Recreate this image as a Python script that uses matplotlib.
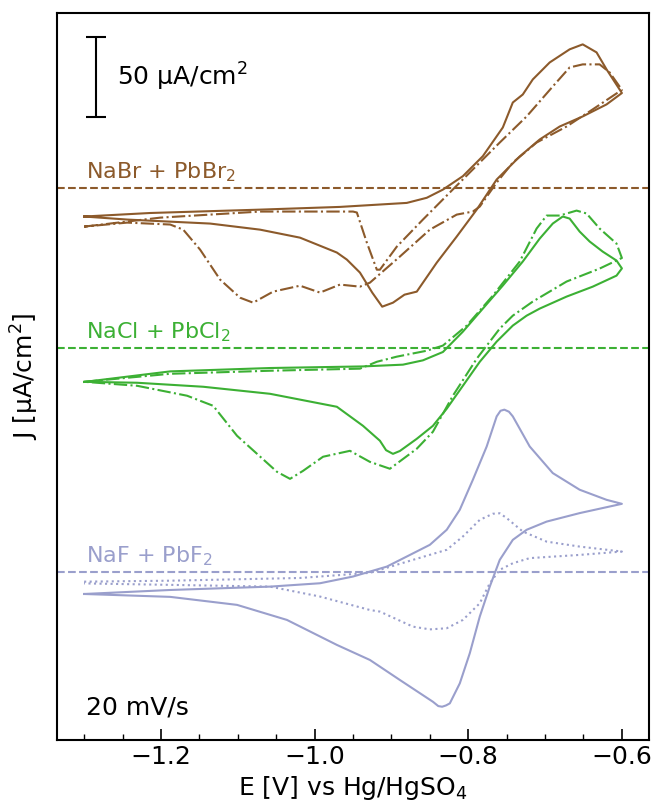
import matplotlib
matplotlib.use("Agg")
import matplotlib.pyplot as plt
from matplotlib.ticker import MultipleLocator

# colours per electrolyte
BROWN = "#8c5a2b"
GREEN = "#3cb034"
LAVENDER = "#9a9fcc"

# vertical offsets (uA/cm^2) of each set
offsets = {"NaF": 0.0, "NaCl": 140.0, "NaBr": 240.0}

# ---- NaBr + PbBr2 ----
e_br_solid = [-1.3, -1.214, -1.071, -0.967, -0.880, -0.854, -0.833, -0.807, -0.781,
              -0.755, -0.742, -0.729, -0.716, -0.694, -0.668, -0.651, -0.633, -0.620,
              -0.6, -0.620, -0.651, -0.681, -0.707, -0.733, -0.763, -0.789, -0.815,
              -0.841, -0.867, -0.883, -0.898, -0.912, -0.925, -0.941, -0.958, -0.971,
              -1.019, -1.071, -1.136, -1.188, -1.244, -1.3]
j_br_solid = [-18.1, -15.9, -13.8, -12.1, -9.6, -6.4, -1.3, 7.1, 19.6,
              37.5, 53.1, 58.1, 67.5, 78.1, 86.3, 89.4, 84.4, 73.8,
              59.0, 51.9, 44.4, 38.1, 30.0, 19.4, 5.0, -13.8, -30.6,
              -46.9, -65.0, -66.9, -71.9, -74.4, -65.6, -53.1, -45.0, -40.6,
              -31.3, -26.3, -22.5, -21.3, -20.0, -18.1]

e_br_dash = [-1.3, -1.201, -1.071, -0.950, -0.945, -0.932, -0.919, -0.915, -0.893,
             -0.859, -0.824, -0.794, -0.759, -0.724, -0.690, -0.668, -0.651, -0.629,
             -0.616, -0.6, -0.638, -0.672, -0.711, -0.742, -0.763, -0.785, -0.794,
             -0.815, -0.850, -0.889, -0.928, -0.941, -0.967, -0.993, -1.019, -1.054,
             -1.080, -1.097, -1.123, -1.149, -1.171, -1.188, -1.244, -1.3]
j_br_dash = [-24.4, -18.8, -15.0, -15.0, -15.6, -34.4, -51.3, -51.3, -36.9,
             -20.0, -3.1, 11.3, 28.1, 44.4, 63.1, 75.0, 76.9, 76.9,
             71.9, 61.0, 48.8, 38.1, 28.1, 15.6, 3.1, -11.9, -15.0,
             -16.9, -26.3, -43.1, -59.4, -61.9, -60.6, -65.6, -61.3, -65.0,
             -71.9, -68.8, -57.5, -38.8, -26.3, -23.1, -21.9, -24.4]

# ---- NaCl + PbCl2 ----
e_cl_solid = [-1.3, -1.188, -1.058, -0.937, -0.885, -0.859, -0.833, -0.807, -0.781,
              -0.755, -0.729, -0.707, -0.690, -0.677, -0.668, -0.655, -0.642, -0.625,
              -0.607, -0.6, -0.607, -0.638, -0.672, -0.707, -0.724, -0.742, -0.763,
              -0.785, -0.807, -0.828, -0.846, -0.867, -0.889, -0.898, -0.907, -0.915,
              -0.937, -0.971, -1.058, -1.145, -1.231, -1.3]
j_cl_solid = [-21.4, -14.8, -12.7, -11.7, -10.6, -7.9, -2.7, 10.0, 24.4,
              38.8, 53.8, 68.1, 77.5, 81.9, 80.6, 72.5, 66.3, 60.0,
              54.4, 49.5, 45.0, 38.1, 31.9, 24.4, 20.0, 13.8, 3.8,
              -8.8, -23.8, -38.1, -48.8, -56.9, -64.5, -66.3, -64.0, -58.1,
              -48.8, -36.9, -28.8, -24.4, -21.9, -21.3]

e_cl_dash = [-1.3, -1.188, -1.058, -0.941, -0.919, -0.893, -0.854, -0.833, -0.802,
             -0.768, -0.733, -0.711, -0.698, -0.681, -0.659, -0.646, -0.629, -0.607,
             -0.6, -0.629, -0.672, -0.716, -0.742, -0.759, -0.789, -0.820, -0.846,
             -0.867, -0.902, -0.928, -0.954, -0.989, -1.015, -1.032, -1.049, -1.101,
             -1.132, -1.166, -1.231, -1.3]
j_cl_dash = [-21.3, -16.3, -14.4, -13.1, -8.8, -5.6, -1.9, 1.3, 13.8,
             32.5, 53.8, 74.4, 82.5, 82.5, 85.6, 83.8, 74.4, 65.0,
             56.0, 49.4, 41.3, 28.8, 20.0, 11.9, -6.9, -30.0, -52.5,
             -63.1, -75.6, -71.3, -64.4, -68.1, -76.9, -81.9, -77.5, -55.0,
             -36.3, -30.0, -23.8, -21.3]

# ---- NaF + PbF2 ----
e_f_solid = [-1.3, -1.188, -1.058, -0.993, -0.950, -0.906, -0.880, -0.850, -0.828,
             -0.811, -0.794, -0.776, -0.763, -0.758, -0.753, -0.747, -0.742, -0.720,
             -0.690, -0.655, -0.620, -0.6, -0.655, -0.698, -0.724, -0.742, -0.759,
             -0.772, -0.785, -0.798, -0.811, -0.824, -0.829, -0.834, -0.839, -0.846,
             -0.889, -0.928, -0.971, -1.036, -1.101, -1.188, -1.3]
j_f_solid = [-13.8, -11.3, -9.2, -7.1, -2.9, 3.3, 9.6, 16.9, 26.3,
             38.8, 57.5, 78.3, 97.1, 100.6, 101.3, 100.0, 97.1, 78.3,
             61.7, 51.3, 45.0, 42.5, 36.7, 31.4, 26.3, 20.0, 7.5,
             -9.2, -27.9, -50.8, -69.6, -82.1, -83.4, -84.2, -83.8, -81.1,
             -67.5, -55.0, -45.6, -30.0, -20.6, -15.6, -13.8]

e_f_dot = [-1.3, -1.188, -1.019, -0.928, -0.872, -0.828, -0.807, -0.785, -0.768,
           -0.759, -0.750, -0.729, -0.698, -0.655, -0.6, -0.655, -0.720, -0.742,
           -0.759, -0.772, -0.785, -0.807, -0.828, -0.850, -0.872, -0.915, -0.928,
           -0.993, -1.058, -1.188, -1.3]
j_f_dot = [-6.1, -5.5, -3.8, -0.6, 7.5, 13.8, 22.1, 32.5, 36.3,
           36.6, 33.6, 25.2, 18.9, 15.8, 12.7, 10.6, 8.6, 5.4,
           1.3, -7.1, -19.6, -30.0, -35.2, -35.9, -34.2, -24.8, -23.8,
           -15.4, -9.2, -8.1, -7.2]

# scale bar (50 uA/cm^2)
bar_x = -1.285
bar_y0 = 284.0
bar_len = 50.0

fig = plt.figure(figsize=(6.58, 8.11), dpi=100)
ax = fig.add_axes([0.087, 0.0875, 0.899, 0.8965])

lw = 1.5
for name, col, curves, label in [
        ("NaBr", BROWN, [(e_br_solid, j_br_solid, "-"), (e_br_dash, j_br_dash, "-.")],
         "NaBr + PbBr$_2$"),
        ("NaCl", GREEN, [(e_cl_solid, j_cl_solid, "-"), (e_cl_dash, j_cl_dash, "-.")],
         "NaCl + PbCl$_2$"),
        ("NaF", LAVENDER, [(e_f_solid, j_f_solid, "-"), (e_f_dot, j_f_dot, ":")],
         "NaF + PbF$_2$")]:
    off = offsets[name]
    for e, j, ls in curves:
        ax.plot(e, [v + off for v in j], ls, color=col, lw=lw)
    ax.axhline(off, color=col, ls="--", lw=lw)
    ax.text(-1.298, off + 2.5, label, color=col, fontsize=16, va="bottom", ha="left")

# scale bar
ax.errorbar([bar_x], [bar_y0 + bar_len / 2], yerr=[bar_len / 2], color="black",
            capsize=7, lw=1.5, capthick=1.5)
ax.text(-1.257, bar_y0 + bar_len / 2, "50 μA/cm$^2$", fontsize=18, va="center", ha="left")
ax.text(-1.298, -84.4, "20 mV/s", fontsize=18, va="center", ha="left")

ax.set_xlim(-1.335, -0.565)
ax.set_ylim(-105, 349)
ax.set_yticks([])
ax.xaxis.set_major_locator(MultipleLocator(0.2))
ax.xaxis.set_minor_locator(MultipleLocator(0.05))
ax.tick_params(axis="x", which="major", direction="in", length=8, width=1.2, labelsize=18)
ax.tick_params(axis="x", which="minor", direction="in", length=4, width=1.0)
for s in ax.spines.values():
    s.set_linewidth(1.5)

ax.set_xlabel("E [V] vs Hg/HgSO$_4$", fontsize=18, labelpad=4)
ax.set_ylabel("J [μA/cm$^2$]", fontsize=18, labelpad=12)

fig.savefig("out.png", dpi=100)
